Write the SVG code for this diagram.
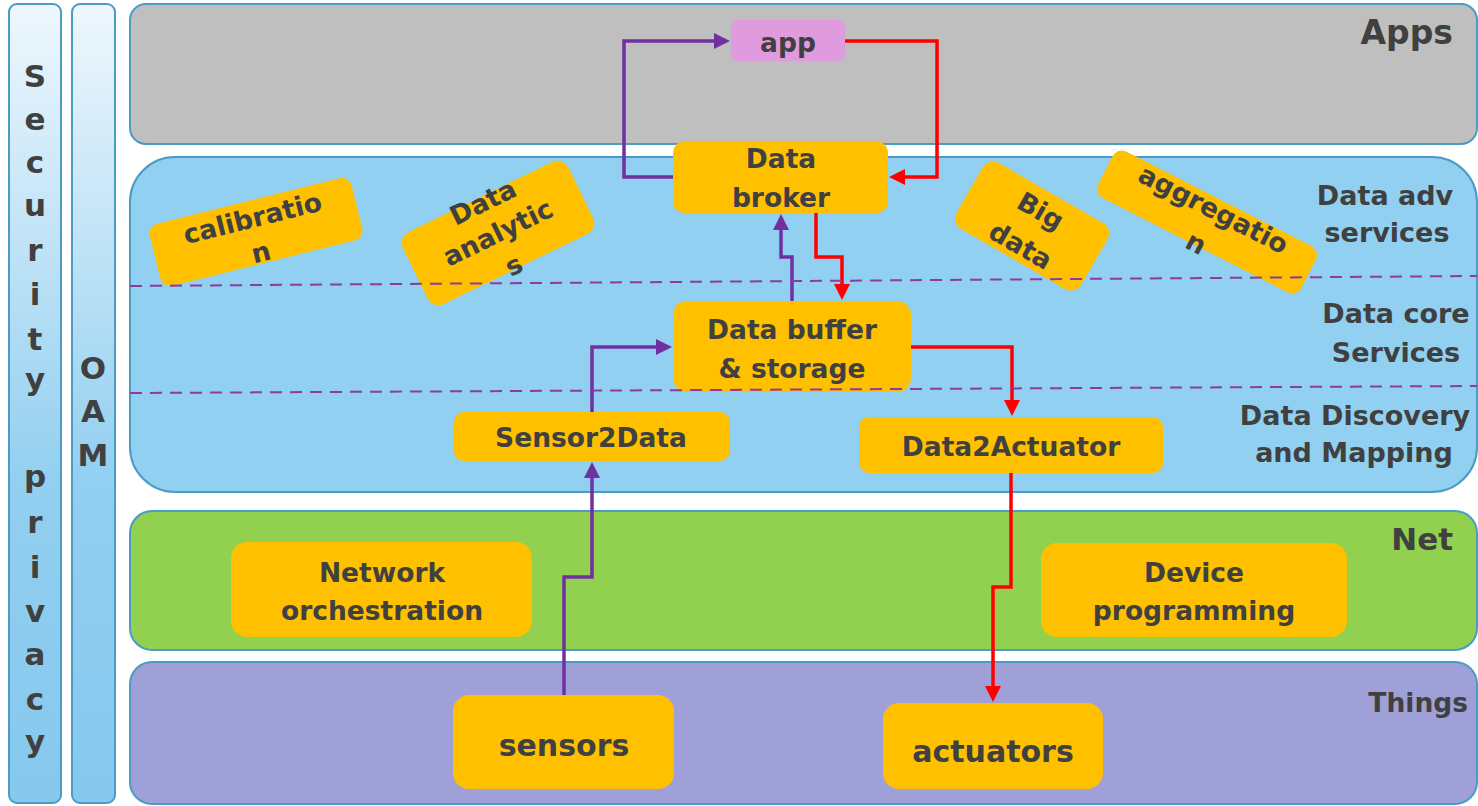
<svg xmlns="http://www.w3.org/2000/svg" width="1478" height="806" viewBox="0 0 1478 806">
<defs>
<linearGradient id="colGrad" x1="0" y1="0" x2="0" y2="1">
<stop offset="0" stop-color="#eef7fd"/>
<stop offset="0.6" stop-color="#92cff0"/>
<stop offset="1" stop-color="#86c8ee"/>
</linearGradient>
<marker id="arrP" markerUnits="userSpaceOnUse" markerWidth="16" markerHeight="16" viewBox="0 0 16 16" refX="3" refY="8" orient="auto">
<path d="M0,0 L16,8 L0,16 z" fill="#7030a0"/>
</marker>
<marker id="arrR" markerUnits="userSpaceOnUse" markerWidth="16" markerHeight="16" viewBox="0 0 16 16" refX="3" refY="8" orient="auto">
<path d="M0,0 L16,8 L0,16 z" fill="#ff0000"/>
</marker>
</defs>
<style>
text{font-family:"DejaVu Sans","Liberation Sans",sans-serif;font-weight:bold;fill:#404040}
.band{stroke:#4a9cc4;stroke-width:2}
.node{fill:#ffc000}
.nt{font-size:26.5px;text-anchor:middle}
.big{font-size:30px;text-anchor:middle}
.lbl{font-size:27px;text-anchor:middle}
.col{fill:url(#colGrad);stroke:#4a9cc4;stroke-width:2}
.vl{font-size:31px;text-anchor:middle}
.cP{fill:none;stroke:#7030a0;stroke-width:3.5;marker-end:url(#arrP)}
.cR{fill:none;stroke:#ff0000;stroke-width:3.5;marker-end:url(#arrR)}
.dash{stroke:#8e3a9e;stroke-width:2;stroke-dasharray:12 8;fill:none}
</style>

<g id="security">
<rect class="col" x="9" y="4" width="52" height="799" rx="8"/>
<text class="vl" x="35" y="87">S</text>
<text class="vl" x="35" y="130">e</text>
<text class="vl" x="35" y="173">c</text>
<text class="vl" x="35" y="216">u</text>
<text class="vl" x="35" y="261">r</text>
<text class="vl" x="35" y="305">i</text>
<text class="vl" x="35" y="350">t</text>
<text class="vl" x="35" y="390">y</text>
<text class="vl" x="35" y="487">p</text>
<text class="vl" x="35" y="533">r</text>
<text class="vl" x="35" y="578">i</text>
<text class="vl" x="35" y="622">v</text>
<text class="vl" x="35" y="665">a</text>
<text class="vl" x="35" y="710">c</text>
<text class="vl" x="35" y="752">y</text>
</g>

<g id="oam">
<rect class="col" x="72" y="4" width="43" height="799" rx="8"/>
<text class="vl" x="93" y="379">O</text>
<text class="vl" x="93" y="422">A</text>
<text class="vl" x="93" y="466">M</text>
</g>

<g id="layer-apps">
<rect class="band" x="130" y="4" width="1347" height="140" rx="16" fill="#bfbfbf"/>
<text x="1453" y="44" style="font-size:33px;text-anchor:end">Apps</text>
</g>
<g id="layer-data">
<rect class="band" x="130" y="157" width="1347" height="335" rx="45" fill="#91d0f1"/>
<text class="lbl" x="1385" y="205">Data adv</text>
<text class="lbl" x="1387" y="242">services</text>
<text class="lbl" x="1396" y="323">Data core</text>
<text class="lbl" x="1396" y="362">Services</text>
<text class="lbl" x="1355" y="425">Data Discovery</text>
<text class="lbl" x="1354" y="462">and Mapping</text>
</g>
<g id="layer-net">
<rect class="band" x="130" y="511" width="1347" height="139" rx="22" fill="#92d050"/>
<text x="1453" y="550" style="font-size:31px;text-anchor:end">Net</text>
</g>
<g id="layer-things">
<rect class="band" x="130" y="662" width="1347" height="142" rx="22" fill="#a0a0d8"/>
<text x="1468" y="712" style="font-size:26.5px;text-anchor:end">Things</text>
</g>

<g id="connectors">
<path class="cP" d="M673,177 H624 V41 H717"/>
<path class="cR" d="M845,41 H937 V177 H902"/>
<path class="cP" d="M792,301 V257 H781 V227"/>
<path class="cR" d="M816,213 V257 H842 V287"/>
<path class="cR" d="M911,347 H1012 V403"/>
<path class="cP" d="M592,412 V347 H659"/>
<path class="cP" d="M564,695 V577 H592 V475"/>
<path class="cR" d="M1011,473 V587 H993 V689"/>
</g>

<g id="app">
<rect x="731" y="20" width="114" height="41" rx="6" fill="#e09bde"/>
<text class="nt" x="788" y="52">app</text>
</g>
<g id="data-broker">
<rect class="node" x="673" y="141" width="215" height="72" rx="12"/>
<text class="nt" x="781" y="168">Data</text>
<text class="nt" x="781" y="207">broker</text>
</g>
<g id="data-buffer">
<rect class="node" x="673" y="301" width="238" height="91" rx="14"/>
<text class="nt" x="792" y="339">Data buffer</text>
<text class="nt" x="792" y="378">&amp; storage</text>
</g>
<g id="sensor2data">
<rect class="node" x="454" y="412" width="276" height="49" rx="10"/>
<text class="nt" x="591" y="447">Sensor2Data</text>
</g>
<g id="data2actuator">
<rect class="node" x="859" y="417" width="304" height="56" rx="10"/>
<text class="nt" x="1011" y="456">Data2Actuator</text>
</g>
<g id="network-orchestration">
<rect class="node" x="231" y="542" width="301" height="95" rx="16"/>
<text class="nt" x="382" y="582">Network</text>
<text class="nt" x="382" y="620">orchestration</text>
</g>
<g id="device-programming">
<rect class="node" x="1041" y="543" width="306" height="94" rx="16"/>
<text class="nt" x="1194" y="582">Device</text>
<text class="nt" x="1194" y="620">programming</text>
</g>
<g id="sensors">
<rect class="node" x="453" y="695" width="221" height="94" rx="16"/>
<text class="big" x="564" y="756">sensors</text>
</g>
<g id="actuators">
<rect class="node" x="883" y="703" width="220" height="86" rx="16"/>
<text class="big" x="993" y="762">actuators</text>
</g>
<g id="calibration" transform="translate(256,232) rotate(-14)">
<rect class="node" x="-104" y="-32" width="208" height="64" rx="10"/>
<text class="nt" x="0" y="-5">calibratio</text>
<text class="nt" x="0" y="30">n</text>
</g>
<g id="data-analytics" transform="translate(498,233) rotate(-26)">
<rect class="node" x="-92" y="-40" width="184" height="80" rx="12"/>
<text class="nt" x="0" y="-25">Data</text>
<text class="nt" x="0" y="9">analytic</text>
<text class="nt" x="0" y="45">s</text>
</g>
<g id="big-data" transform="translate(1032,226) rotate(30)">
<rect class="node" x="-72" y="-38" width="144" height="76" rx="12"/>
<text class="nt" x="0" y="-8">Big</text>
<text class="nt" x="0" y="32">data</text>
</g>
<g id="aggregation" transform="translate(1207,222) rotate(27)">
<rect class="node" x="-114" y="-26" width="228" height="52" rx="10"/>
<text class="nt" x="0" y="-5">aggregatio</text>
<text class="nt" x="0" y="33">n</text>
</g>

<g id="dividers">
<path class="dash" d="M130,286 L1477,276"/>
<path class="dash" d="M130,393 L1477,386"/>
</g>
</svg>
